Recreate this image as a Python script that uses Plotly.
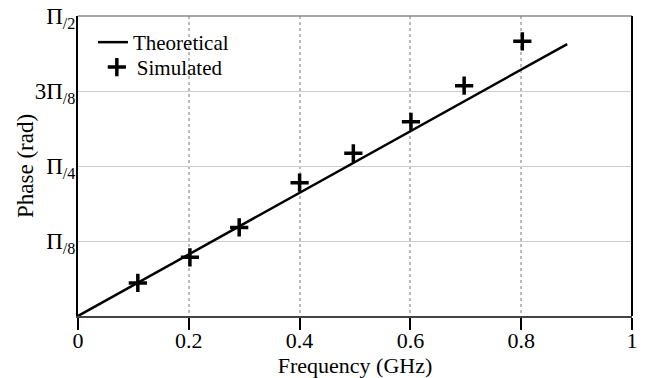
import math
import plotly.graph_objects as go

theo_x = [0.0, 0.883]
theo_y = [0.0, 1.424]

sim_x = [0.108, 0.202, 0.291, 0.400, 0.497, 0.601, 0.697, 0.802]
sim_y = [0.173, 0.307, 0.464, 0.698, 0.852, 1.017, 1.206, 1.438]

x_ticks = [0, 0.2, 0.4, 0.6, 0.8, 1]
x_labels = ["0", "0.2", "0.4", "0.6", "0.8", "1"]
y_ticks = [math.pi / 8, math.pi / 4, 3 * math.pi / 8, math.pi / 2]
y_labels = ["Π<sub>/8</sub>", "Π<sub>/4</sub>", "3Π<sub>/8</sub>", "Π<sub>/2</sub>"]

FONT = "Liberation Serif"

fig = go.Figure()
fig.add_trace(go.Scatter(x=theo_x, y=theo_y, mode="lines", name="Theoretical",
                         line=dict(color="black", width=2.5), legend="legend"))
fig.add_trace(go.Scatter(x=sim_x, y=sim_y, mode="markers", name="Simulated",
                         marker=dict(symbol="cross-thin", size=13,
                                     line=dict(color="black", width=3.5), color="black"),
                         legend="legend2"))

fig.update_layout(
    width=647, height=378,
    margin=dict(l=78, r=15, t=16, b=62),
    paper_bgcolor="white", plot_bgcolor="white",
    font=dict(family=FONT, size=19, color="black"),
    legend=dict(x=0.027, y=0.98, xanchor="left", yanchor="top",
                bgcolor="rgba(0,0,0,0)", font=dict(size=21), itemwidth=30),
    legend2=dict(x=0.034, y=0.897, xanchor="left", yanchor="top",
                 bgcolor="rgba(0,0,0,0)", font=dict(size=21), itemwidth=30),
    showlegend=True,
)
fig.update_xaxes(
    range=[0, 1], tickvals=x_ticks, ticktext=x_labels,
    ticks="outside", ticklen=12, tickwidth=2, tickcolor="black",
    ticklabelstandoff=-8,
    showline=True, linecolor="#444", linewidth=1.5,
    showgrid=True, gridcolor="#bbbbbb", griddash="dot", gridwidth=1.5,
    zeroline=False, automargin=False,
    title=dict(text="Frequency (GHz)", font=dict(size=22), standoff=6),
    tickfont=dict(size=22),
)
fig.update_yaxes(
    range=[0, math.pi / 2], tickvals=y_ticks, ticktext=y_labels,
    ticks="", ticklabelstandoff=-4,
    showline=True, linecolor="black", linewidth=2,
    showgrid=True, gridcolor="#cccccc", gridwidth=1,
    zeroline=False, automargin=False,
    tickfont=dict(size=23),
)
fig.add_annotation(text="Phase (rad)", textangle=-90, xref="paper", yref="paper",
                   x=(25 - 78) / 554, y=0.5, xanchor="center", yanchor="middle",
                   showarrow=False, font=dict(size=23))
# top and right border
fig.add_shape(type="line", xref="paper", yref="paper", x0=0, x1=1, y0=1, y1=1,
              line=dict(color="#888888", width=1.5))
fig.add_shape(type="line", xref="paper", yref="paper", x0=1, x1=1, y0=0, y1=1,
              line=dict(color="black", width=2))

fig.write_html("out.html", config={"displayModeBar": False},
               post_script="document.body.style.margin='0';")
